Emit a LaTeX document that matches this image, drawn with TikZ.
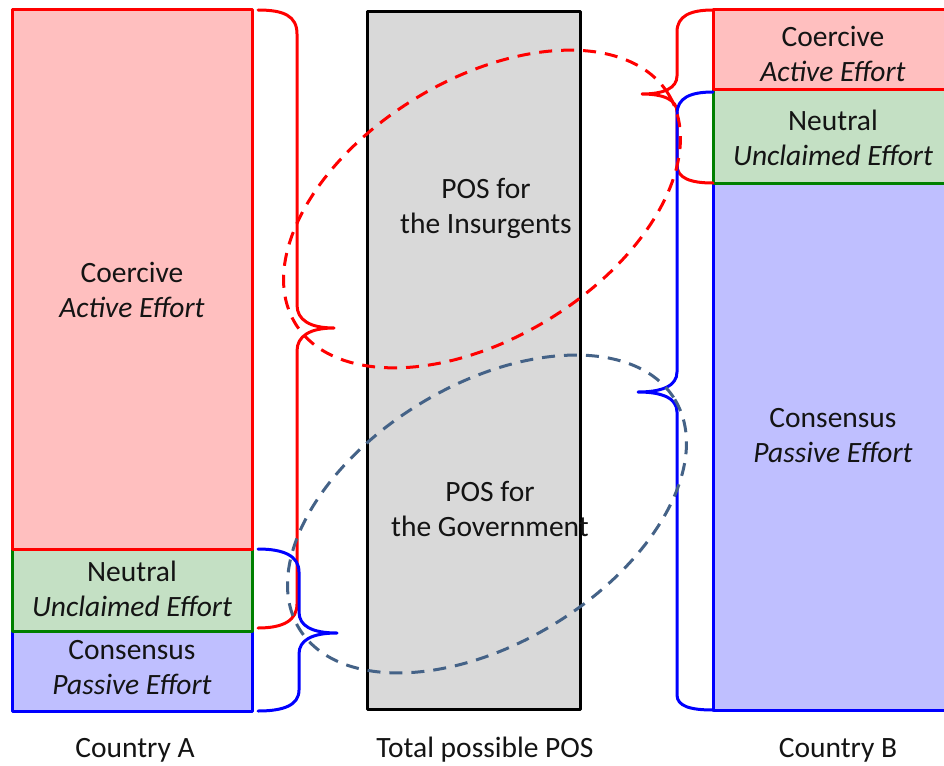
\documentclass[tikz,border=0pt]{standalone}
\usepackage{fontspec}
\setmainfont{Carlito}
\definecolor{fillR}{RGB}{255,191,191}
\definecolor{fillG}{RGB}{196,224,196}
\definecolor{fillB}{RGB}{191,191,255}
\definecolor{fillK}{RGB}{217,217,217}
\definecolor{lineR}{RGB}{255,0,0}
\definecolor{lineG}{RGB}{0,128,0}
\definecolor{lineB}{RGB}{0,0,255}
\definecolor{lineS}{RGB}{68,98,135}
\definecolor{txt}{RGB}{20,20,20}
\begin{document}
\begin{tikzpicture}[x=1pt,y=-1pt,line join=round,
  boxR/.style={fill=fillR,draw=lineR,line width=3pt},
  boxG/.style={fill=fillG,draw=lineG,line width=3pt},
  boxB/.style={fill=fillB,draw=lineB,line width=3pt},
  boxK/.style={fill=fillK,draw=black,line width=3pt},
  braceR/.style={draw=lineR,line width=3pt,line cap=round},
  braceB/.style={draw=lineB,line width=3pt,line cap=round},
  ellR/.style={draw=lineR,line width=3pt,dash pattern=on 13pt off 9pt},
  ellS/.style={draw=lineS,line width=3pt,dash pattern=on 13pt off 9pt},
  lbl/.style={font=\fontsize{29.5}{35}\selectfont,align=center,text=txt,inner sep=0pt}]
\clip (0,0) rectangle (944,765);
\fill[white] (0,0) rectangle (944,765);
% Country A
\path[boxB] (12,631) rectangle (252,711);
\path[boxG] (12,549) rectangle (252,631);
\path[boxR] (12,10) rectangle (252,549);
% Centre
\path[boxK] (367,12) rectangle (580,709);
% Country B
\path[boxB] (713,183) rectangle (960,710);
\path[boxG] (713,90) rectangle (960,183);
\path[boxR] (713,10) rectangle (960,90);
% labels
\node[lbl] (aCo) at (132,290) {Coercive\\\textit{Active Effort}};
\node[lbl] (aNe) at (132,589) {Neutral\\\textit{Unclaimed Effort}};
\node[lbl] (aCs) at (132,668) {Consensus\\\textit{Passive Effort}};
\node[lbl] (bCo) at (833,54) {Coercive\\\textit{Active Effort}};
\node[lbl] (bNe) at (833,138) {Neutral\\\textit{Unclaimed Effort}};
\node[lbl] (bCs) at (833,436) {Consensus\\\textit{Passive Effort}};
\node[lbl] (pIn) at (486,208) {POS for\\the Insurgents};
\node[lbl] (pGo) at (490,509) {POS for\\the Government};
\node[lbl] (capA) at (135,750) {Country A};
\node[lbl] (capT) at (485,750) {Total possible POS};
\node[lbl] (capB) at (838,750) {Country B};
% braces left
\path[braceR] (258,10) .. controls (284,10) and (297,16) .. (297,34) -- (297,305)
  .. controls (297,320) and (310,328) .. (334,328)
  .. controls (310,328) and (297,336) .. (297,351) -- (297,604)
  .. controls (297,620) and (284,628) .. (258,628);
\path[braceB] (258,549) .. controls (284,549) and (299,556) .. (299,572) -- (299,612)
  .. controls (299,626) and (312,633) .. (337,633)
  .. controls (312,633) and (299,640) .. (299,654) -- (299,690)
  .. controls (299,705) and (284,711) .. (258,711);
% braces right
\path[braceR] (713,10) .. controls (690,10) and (677,16) .. (677,32) -- (677,76)
  .. controls (677,88) and (664,94) .. (642,94)
  .. controls (664,94) and (677,100) .. (677,112) -- (677,165)
  .. controls (677,178) and (690,183) .. (713,183);
\path[braceB] (713,92) .. controls (690,92) and (677,98) .. (677,114) -- (677,372)
  .. controls (677,386) and (662,392) .. (638,392)
  .. controls (662,392) and (677,398) .. (677,412) -- (677,695)
  .. controls (677,706) and (690,710) .. (713,710);
% ellipses
\coordinate (e1) at (482,209);
\coordinate (e2) at (487,514);
\path[ellR,rotate around={31.6:(e1)}] (e1) ellipse [x radius=219, y radius=129];
\path[ellS,rotate around={31.4:(e2)}] (e2) ellipse [x radius=220, y radius=129];
\end{tikzpicture}
\end{document}
